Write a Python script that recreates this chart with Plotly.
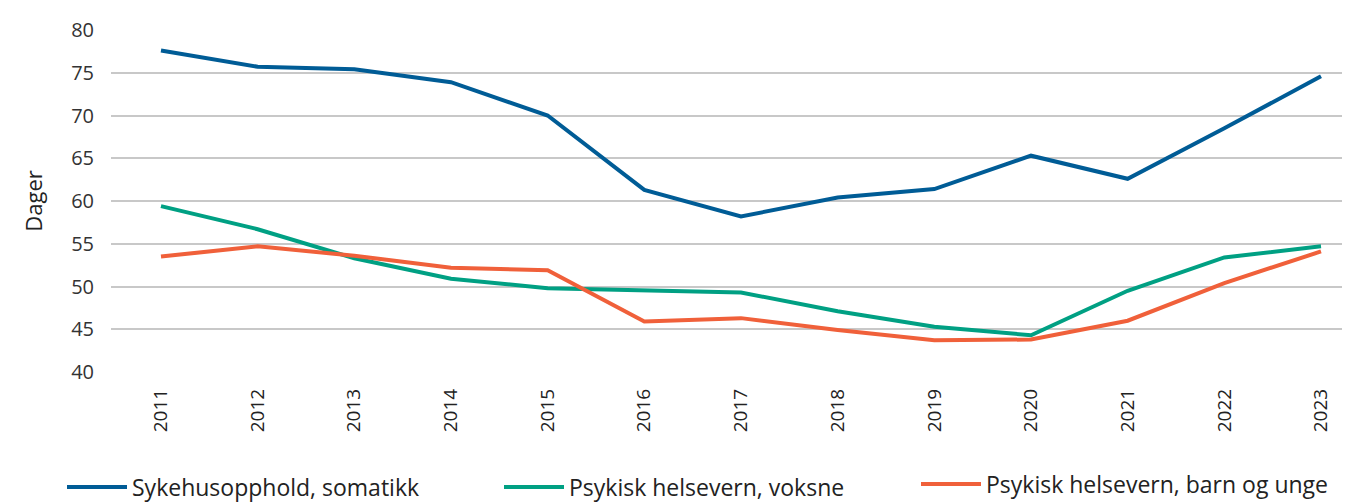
import plotly.graph_objects as go

years = ["2011", "2012", "2013", "2014", "2015", "2016", "2017", "2018", "2019", "2020", "2021", "2022", "2023"]
somatikk = [77.6, 75.7, 75.4, 73.9, 70.0, 61.3, 58.2, 60.4, 61.4, 65.3, 62.6, 68.5, 74.6]
voksne = [59.4, 56.7, 53.3, 50.9, 49.8, 49.6, 49.3, 47.1, 45.3, 44.3, 49.5, 53.4, 54.7]
barn_unge = [53.5, 54.7, 53.6, 52.2, 51.9, 45.9, 46.3, 44.9, 43.7, 43.8, 46.0, 50.4, 54.1]

names = ["Sykehusopphold, somatikk", "Psykisk helsevern, voksne", "Psykisk helsevern, barn og unge"]
colors = ["#005C96", "#00A083", "#F0603A"]
series = [somatikk, voksne, barn_unge]
legend_ids = ["legend", "legend2", "legend3"]

fig = go.Figure()
for n, c, s, lg in zip(names, colors, series, legend_ids):
    fig.add_trace(go.Scatter(x=years, y=s, name=n, mode="lines", legend=lg,
                             line=dict(color=c, width=4)))

W, H = 1342, 495
font = "Open Sans"
legend_x = [54, 491, 908]
legend_y = [479, 479, 476]


def legend_style(xp, yp):
    return dict(orientation="h", xref="container", yref="container",
                x=xp / W, xanchor="left", y=1 - yp / H, yanchor="middle",
                font=dict(size=23, color="#222222"), itemwidth=60,
                bgcolor="rgba(0,0,0,0)")


fig.update_layout(
    width=W, height=H,
    margin=dict(l=103, r=0, t=22, b=131, autoexpand=False),
    plot_bgcolor="white", paper_bgcolor="white",
    font=dict(family=font, color="#333333", size=18),
    showlegend=True,
    legend=legend_style(legend_x[0], legend_y[0]),
    legend2=legend_style(legend_x[1], legend_y[1]),
    legend3=legend_style(legend_x[2], legend_y[2]),
    xaxis=dict(type="category", range=[-0.517, 12.3], tickangle=-90, automargin=False,
               showgrid=False, showline=False, ticks="", ticklabelstandoff=12,
               tickfont=dict(size=19, color="#222222")),
    yaxis=dict(range=[40, 80], dtick=5, showgrid=True, gridcolor="#C8C8C8", gridwidth=1.5,
               zeroline=False, showline=False, ticks="", automargin=False,
               ticklabelstandoff=16,
               title=dict(text="Dager", font=dict(size=22, color="#222222"), standoff=22),
               tickfont=dict(size=20, color="#333333")),
)
fig.write_html("out.html")
